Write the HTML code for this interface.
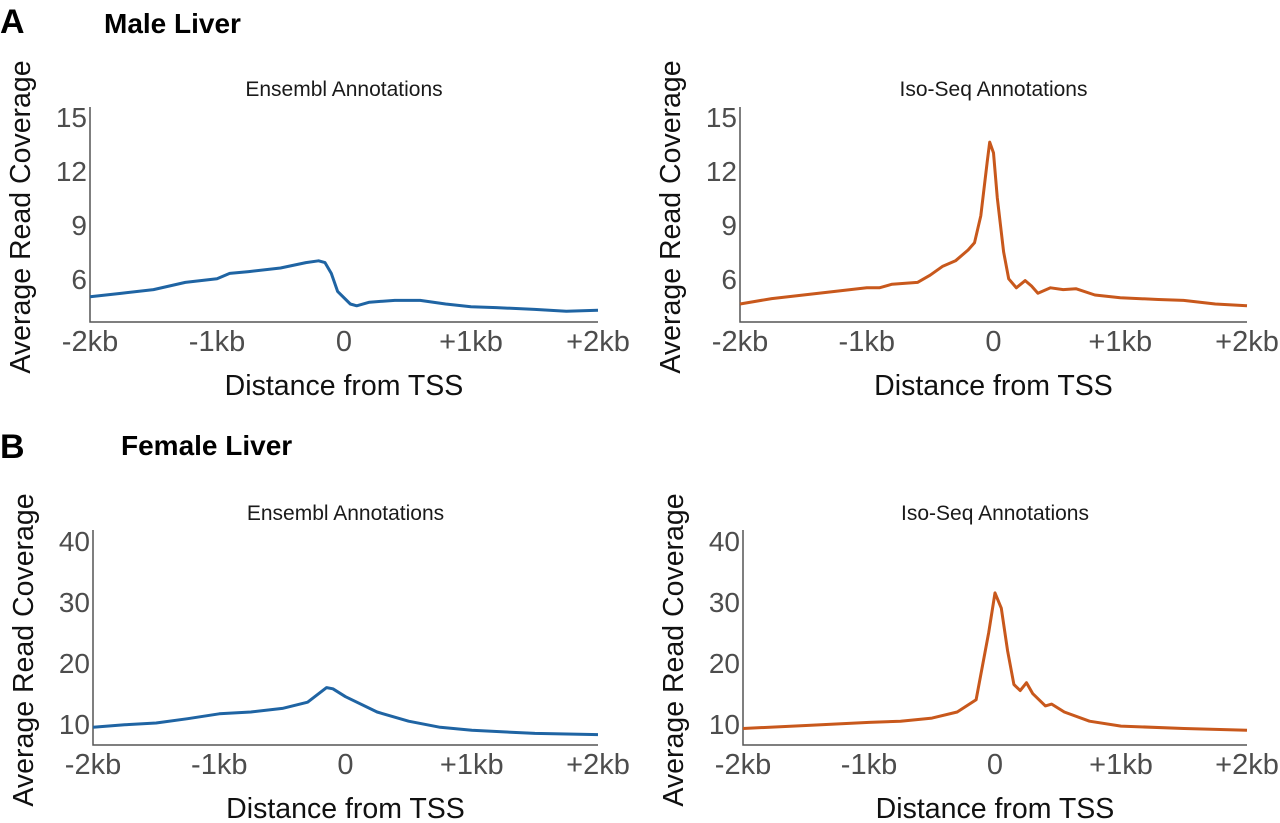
<!DOCTYPE html>
<html><head><meta charset="utf-8"><style>
body{margin:0;background:#fff;}
svg{display:block;font-family:"Liberation Sans",Arial,sans-serif;}
</style></head><body>
<svg id="fig" width="1280" height="823" viewBox="0 0 1280 823">
<text x="0" y="33" font-size="34" font-weight="bold">A</text>
<text x="104" y="33" font-size="28" font-weight="bold">Male Liver</text>
<text x="0" y="458" font-size="34" font-weight="bold">B</text>
<text x="121" y="455" font-size="28" font-weight="bold">Female Liver</text>
</svg>
<script>
const xTicks=[-2,-1,0,1,2];
const xTickLabels=["-2kb","-1kb","0","+1kb","+2kb"];
const maleTicks=[6,9,12,15];
const femaleTicks=[10,20,30,40];
const maleEnsX=[-2,-1.75,-1.5,-1.25,-1,-0.9,-0.75,-0.5,-0.3,-0.2,-0.15,-0.1,-0.05,0.05,0.1,0.2,0.4,0.6,0.8,1.0,1.2,1.5,1.75,2];
const maleEnsY=[5.0,5.2,5.4,5.8,6.0,6.3,6.4,6.6,6.9,7.0,6.9,6.3,5.3,4.6,4.5,4.7,4.8,4.8,4.6,4.45,4.4,4.3,4.2,4.25];
const maleIsoX=[-2,-1.75,-1.5,-1.25,-1,-0.9,-0.8,-0.6,-0.5,-0.4,-0.3,-0.2,-0.15,-0.1,-0.05,-0.03,0,0.03,0.08,0.12,0.18,0.25,0.3,0.35,0.45,0.55,0.65,0.8,1.0,1.3,1.5,1.75,2];
const maleIsoY=[4.6,4.9,5.1,5.3,5.5,5.5,5.7,5.8,6.2,6.7,7.0,7.6,8.0,9.5,12.5,13.6,13.0,10.5,7.5,6.0,5.5,5.9,5.6,5.2,5.5,5.4,5.45,5.1,4.95,4.85,4.8,4.6,4.5];
const femEnsX=[-2,-1.75,-1.5,-1.25,-1,-0.75,-0.5,-0.3,-0.15,-0.1,0,0.25,0.5,0.75,1,1.5,2];
const femEnsY=[9.5,9.9,10.2,10.9,11.7,12.0,12.6,13.6,16.0,15.8,14.5,12.0,10.5,9.5,9.0,8.5,8.3];
const femIsoX=[-2,-1.5,-1,-0.75,-0.5,-0.3,-0.15,-0.05,0,0.05,0.1,0.15,0.2,0.25,0.3,0.4,0.45,0.55,0.75,1,1.5,2];
const femIsoY=[9.3,9.8,10.3,10.5,11.0,12.0,14.0,25.0,31.5,29.0,22.0,16.5,15.5,16.8,15.0,13.0,13.3,12.0,10.5,9.7,9.3,9.0];

const svg=document.getElementById('fig');
const NS='http://www.w3.org/2000/svg';
function mk(tag,attrs,parent){const e=document.createElementNS(NS,tag);for(const k in attrs)e.setAttribute(k,attrs[k]);(parent||svg).appendChild(e);return e;}

function panel(o){
  const g=mk('g',{});
  
  
  const sx=v=>o.x0+(v+2)/4*(o.x1-o.x0);
  const sy=v=>o.yb-(v-o.vmin)/(o.vmax-o.vmin)*(o.yb-o.yt);
  const t=mk('text',{x:(o.x0+o.x1)/2,y:o.titleY,'font-size':21,'text-anchor':'middle',fill:'#1a1a1a'},g);
  t.textContent=o.title;
  
  
  const ax=mk('path',{d:`M${o.x0} ${o.yt} V${o.yb} H${o.x1}`,stroke:'#555','stroke-width':1.5,fill:'none'},g);
  
  
  o.yTicks.forEach(v=>{
    const l=mk('text',{x:o.x0-3,y:sy(v)+10,'font-size':28,'text-anchor':'end',fill:'#4d4d4d'},g);
    l.textContent=v;
    
    
  });
  xTicks.forEach((v,i)=>{
    const l=mk('text',{x:sx(v),y:o.yb+29,'font-size':29,'text-anchor':'middle',fill:'#4d4d4d'},g);
    l.textContent=xTickLabels[i];
    
    
  });
  const xt=mk('text',{x:(o.x0+o.x1)/2,y:o.yb+73,'font-size':28.5,'text-anchor':'middle',fill:'#111'},g);
  xt.textContent='Distance from TSS';
  
  
  const yt=mk('text',{x:0,y:0,'font-size':28.5,'text-anchor':'middle',fill:'#111',transform:`translate(${o.x0-60},${o.ytc}) rotate(-90)`},g);
  yt.textContent='Average Read Coverage';
  
  
  const d=o.xs.map((v,i)=>(i?'L':'M')+sx(v).toFixed(1)+' '+sy(o.ys[i]).toFixed(1)).join(' ');
  const p=mk('path',{d:d,stroke:o.color,'stroke-width':3,fill:'none','stroke-linejoin':'round'},g);
  
  
}
panel({name:'male-ensembl-panel',title:'Ensembl Annotations',x0:90,x1:598,yt:107,yb:322,vmin:3.6,vmax:15.55,yTicks:maleTicks,xs:maleEnsX,ys:maleEnsY,color:'#1f64a3',titleY:96,ytc:217});
panel({name:'male-isoseq-panel',title:'Iso-Seq Annotations',x0:740,x1:1247,yt:107,yb:322,vmin:3.6,vmax:15.55,yTicks:maleTicks,xs:maleIsoX,ys:maleIsoY,color:'#c8581c',titleY:96,ytc:217});
panel({name:'female-ensembl-panel',title:'Ensembl Annotations',x0:93,x1:598,yt:530,yb:745,vmin:6.6,vmax:41.8,yTicks:femaleTicks,xs:femEnsX,ys:femEnsY,color:'#1f64a3',titleY:520,ytc:650});
panel({name:'female-isoseq-panel',title:'Iso-Seq Annotations',x0:743,x1:1247,yt:530,yb:745,vmin:6.6,vmax:41.8,yTicks:femaleTicks,xs:femIsoX,ys:femIsoY,color:'#c8581c',titleY:520,ytc:650});
</script>
</body></html>
